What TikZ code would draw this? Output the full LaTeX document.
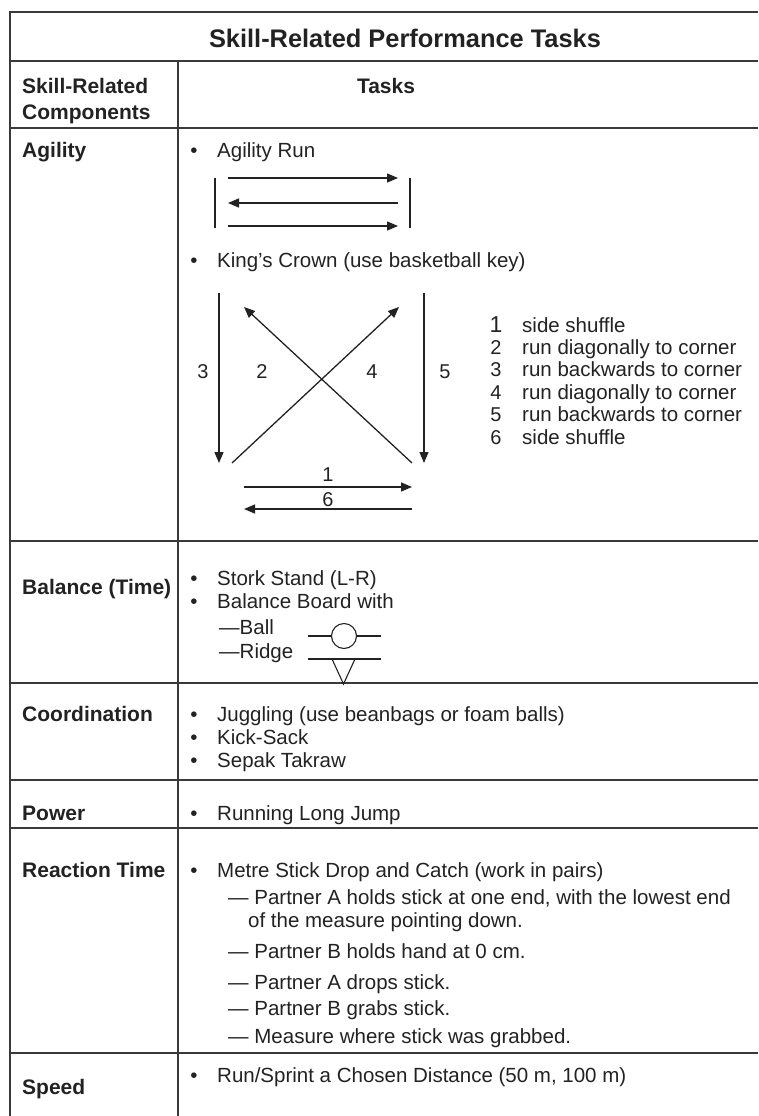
\documentclass[tikz,border=0pt]{standalone}
\usepackage{fontspec}
\setmainfont{Liberation Sans}
\usetikzlibrary{arrows.meta}
\definecolor{ink}{HTML}{222222}
\definecolor{rule}{HTML}{3A3A3A}
\begin{document}
\begin{tikzpicture}[x=1pt,y=-1pt,
  txt/.style={anchor=base west,inner sep=0pt,text=ink,font=\fontsize{20.5}{23}\selectfont},
  lbl/.style={anchor=base west,inner sep=0pt,text=ink,font=\bfseries\fontsize{21}{25}\selectfont},
  num/.style={anchor=center,inner sep=0pt,text=ink,font=\fontsize{20}{22}\selectfont},
  lnum/.style={anchor=base,inner sep=0pt,text=ink,font=\fontsize{20}{22}\selectfont},
  bul/.style={anchor=base,inner sep=0pt,text=ink,font=\fontsize{20.5}{23}\selectfont},
  grid/.style={draw=rule,line width=1.4pt},
  fig/.style={draw=ink,line width=1.3pt},
  arr/.style={fig,-{Triangle[length=11pt,width=9pt]}}]
\useasboundingbox (0,0) rectangle (758,1116);
% table rules
\draw[grid] (758,12) -- (10,12) -- (10,1116);
\draw[grid] (10,61) -- (758,61);
\draw[grid] (178,61) -- (178,1116);
\foreach \yy in {128,541,683,780,828,1053} \draw[grid] (10,\yy) -- (758,\yy);
% headers
\node[anchor=base,inner sep=0pt,text=ink,font=\bfseries\fontsize{25.4}{30}\selectfont] (title) at (405,48) {Skill-Related Performance Tasks};
\node[lbl] (h1) at (22,93) {Skill-Related};
\node[lbl] (h2) at (22,119) {Components};
\node[lbl,anchor=base] (h3) at (386,93) {Tasks};
% row labels
\node[lbl] (lagi) at (22,157) {Agility};
\node[lbl] (lbal) at (22,594) {Balance (Time)};
\node[lbl] (lcoo) at (22,721) {Coordination};
\node[lbl] (lpow) at (22,820) {Power};
\node[lbl] (lrea) at (22,877) {Reaction Time};
\node[lbl] (lspe) at (22,1094) {Speed};
% Agility
\node[bul] (b1) at (194,157) {•};
\node[txt] (t1) at (217,157) {Agility Run};
\coordinate (bl1) at (215,178); \coordinate (bl2) at (215,228);
\coordinate (br1) at (410,178); \coordinate (br2) at (410,228);
\draw[fig] (bl1) -- (bl2);
\draw[fig] (br1) -- (br2);
\coordinate (a1s) at (228,178); \coordinate (a1e) at (398,178);
\coordinate (a2s) at (398,203); \coordinate (a2e) at (228,203);
\coordinate (a3s) at (228,226); \coordinate (a3e) at (398,226);
\draw[arr] (a1s) -- (a1e);
\draw[arr] (a2s) -- (a2e);
\draw[arr] (a3s) -- (a3e);
\node[bul] (b2) at (194,267) {•};
\node[txt] (t2) at (217,267) {King’s Crown (use basketball key)};
% King's crown figure
\coordinate (k3s) at (219,293); \coordinate (k3e) at (219,463);
\coordinate (k5s) at (424,293); \coordinate (k5e) at (424,463);
\coordinate (k2s) at (412,463); \coordinate (k2e) at (244,307);
\coordinate (k4s) at (232,463); \coordinate (k4e) at (399,307);
\coordinate (k1s) at (244,487); \coordinate (k1e) at (412,487);
\coordinate (k6s) at (412,509); \coordinate (k6e) at (244,509);
\draw[arr] (k3s) -- (k3e);
\draw[arr] (k5s) -- (k5e);
\draw[arr] (k2s) -- (k2e);
\draw[arr] (k4s) -- (k4e);
\draw[arr] (k1s) -- (k1e);
\draw[arr] (k6s) -- (k6e);
\node[num] (n3) at (203,372) {3};
\node[num] (n2) at (262,372) {2};
\node[num] (n4) at (372,372) {4};
\node[num] (n5) at (445,372) {5};
\node[num] (n1) at (328,475) {1};
\node[num] (n6) at (328,500) {6};
% legend
\node[lnum,font=\fontsize{23}{25}\selectfont] (g1) at (496,332) {1};
\node[txt] (g1t) at (522,332) {side shuffle};
\node[lnum] (g2) at (496,354) {2};
\node[txt] (g2t) at (522,354) {run diagonally to corner};
\node[lnum] (g3) at (496,376.5) {3};
\node[txt] (g3t) at (522,376.5) {run backwards to corner};
\node[lnum] (g4) at (496,399) {4};
\node[txt] (g4t) at (522,399) {run diagonally to corner};
\node[lnum] (g5) at (496,421.5) {5};
\node[txt] (g5t) at (522,421.5) {run backwards to corner};
\node[lnum] (g6) at (496,444) {6};
\node[txt] (g6t) at (522,444) {side shuffle};
% Balance
\node[bul] (b3) at (194,585) {•};
\node[txt] (t3) at (217,585) {Stork Stand (L-R)};
\node[bul] (b4) at (194,608) {•};
\node[txt] (t4) at (217,608) {Balance Board with};
\node[txt] (t5) at (219,634) {—Ball};
\node[txt] (t6) at (219,658) {—Ridge};
\node[circle,draw=ink,line width=1.1pt,minimum size=25pt,inner sep=0pt] (ball) at (344,636) {};
\coordinate (bal1) at (308,636); \coordinate (bal2) at (381,636);
\draw[fig,line width=1.1pt] (bal1) -- (ball.west);
\draw[fig,line width=1.1pt] (ball.east) -- (bal2);
\coordinate (r1) at (308,659); \coordinate (r2) at (381,659);
\coordinate (ra) at (332,659); \coordinate (rb) at (355,659); \coordinate (rc) at (343.5,684);
\draw[fig,line width=1.1pt] (r1) -- (r2);
\draw[fig,line width=1.1pt,line join=miter] (ra) -- (rc) -- (rb);
% Coordination
\node[bul] (b5) at (194,721) {•};
\node[txt] (t7) at (217,721) {Juggling (use beanbags or foam balls)};
\node[bul] (b6) at (194,744) {•};
\node[txt] (t8) at (217,744) {Kick-Sack};
\node[bul] (b7) at (194,767) {•};
\node[txt] (t9) at (217,767) {Sepak Takraw};
% Power
\node[bul] (b8) at (194,820) {•};
\node[txt] (t10) at (217,820) {Running Long Jump};
% Reaction time
\node[bul] (b9) at (194,877) {•};
\node[txt] (t11) at (217,877) {Metre Stick Drop and Catch (work in pairs)};
\node[txt] (t12) at (228,904) {— Partner A holds stick at one end, with the lowest end};
\node[txt] (t13) at (248,927) {of the measure pointing down.};
\node[txt] (t14) at (228,958) {— Partner B holds hand at 0 cm.};
\node[txt] (t15) at (228,989) {— Partner A drops stick.};
\node[txt] (t16) at (228,1015) {— Partner B grabs stick.};
\node[txt] (t17) at (228,1043) {— Measure where stick was grabbed.};
% Speed
\node[bul] (b10) at (194,1082) {•};
\node[txt] (t18) at (217,1082) {Run/Sprint a Chosen Distance (50 m, 100 m)};
\end{tikzpicture}
\end{document}
